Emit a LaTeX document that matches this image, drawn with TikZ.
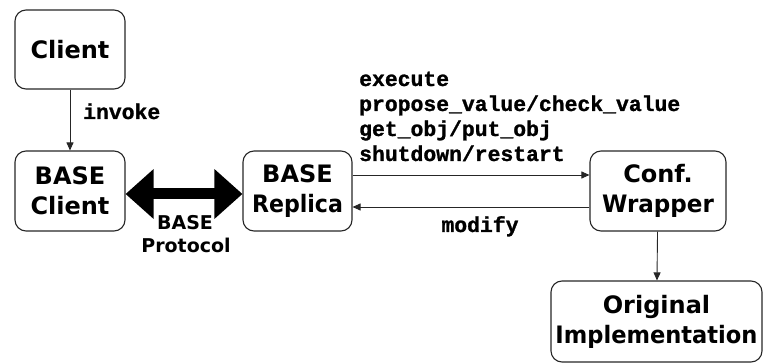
\documentclass[tikz,border=0pt]{standalone}
\usepackage{fontspec}
\usepackage{graphicx}
\setsansfont{DejaVu Sans}
\setmonofont[BoldFeatures={FakeBold=1.2}]{Liberation Mono}
\usetikzlibrary{arrows.meta}
% narrow a long word horizontally so it sits inside its box
\newcommand{\squeeze}[2]{\scalebox{#1}[1]{#2}}
\begin{document}
\begin{tikzpicture}[x=1pt,y=-1pt,
  box/.style={draw=black!85, line width=1.1pt, rounded corners=11pt, inner sep=0pt,
    align=center, font=\sffamily\bfseries\fontsize{24}{30}\selectfont},
  call/.style={draw=black!85, line width=0.9pt, -{Triangle[length=8pt,width=7pt]}},
  code/.style={font=\ttfamily\bfseries\fontsize{21.4}{25}\selectfont, inner sep=0pt},
  proto/.style={font=\sffamily\bfseries\fontsize{19}{23}\selectfont, inner sep=0pt, align=center},
  fat/.style={line width=11pt, {Triangle[length=28pt,width=48pt]}-{Triangle[length=28pt,width=48pt]}},
]
\useasboundingbox (0,0) rectangle (763,363);

% components
\node[box, minimum width=110pt, minimum height=79pt] (client) at (70,49.5) {Client};
\node[box, minimum width=110pt, minimum height=80pt] (bc) at (70,191) {BASE\\Client};
\node[box, minimum width=109pt, minimum height=80pt] (br) at (297.5,191) {BASE\\\squeeze{0.92}{Replica}};
\node[box, minimum width=136pt, minimum height=80pt] (cw) at (658,191) {Conf.\\\squeeze{0.96}{Wrapper}};
\node[box, minimum width=211pt, minimum height=81pt] (oi) at (656.5,321.5) {Original\\\squeeze{0.94}{Implementation}};

% calls
\draw[call] (client) -- (bc);
\draw[call] ([yshift=16pt]br.east) -- ([yshift=16pt]cw.west);
\draw[call] ([yshift=-16pt]cw.west) -- ([yshift=-16pt]br.east);
\draw[call] (cw) -- (oi);

% protocol between client library and replica
\draw[fat] ([yshift=-3pt]bc.east) -- ([yshift=-3pt]br.west);

% labels
\node[code, anchor=base west] (linvoke) at (83,119) {invoke};
\node[proto, anchor=base] (lproto1) at (185,230) {BASE};
\node[proto, anchor=base] (lproto2) at (186,253) {Protocol};
\node[code, anchor=base west] (l1) at (359,86) {execute};
\node[code, anchor=base west] (l2) at (359,111) {propose\_value/check\_value};
\node[code, anchor=base west] (l3) at (359,136) {get\_obj/put\_obj};
\node[code, anchor=base west] (l4) at (359,161) {shutdown/restart};
\node[code, anchor=base] (lmod) at (480,232) {modify};
\end{tikzpicture}
\end{document}
